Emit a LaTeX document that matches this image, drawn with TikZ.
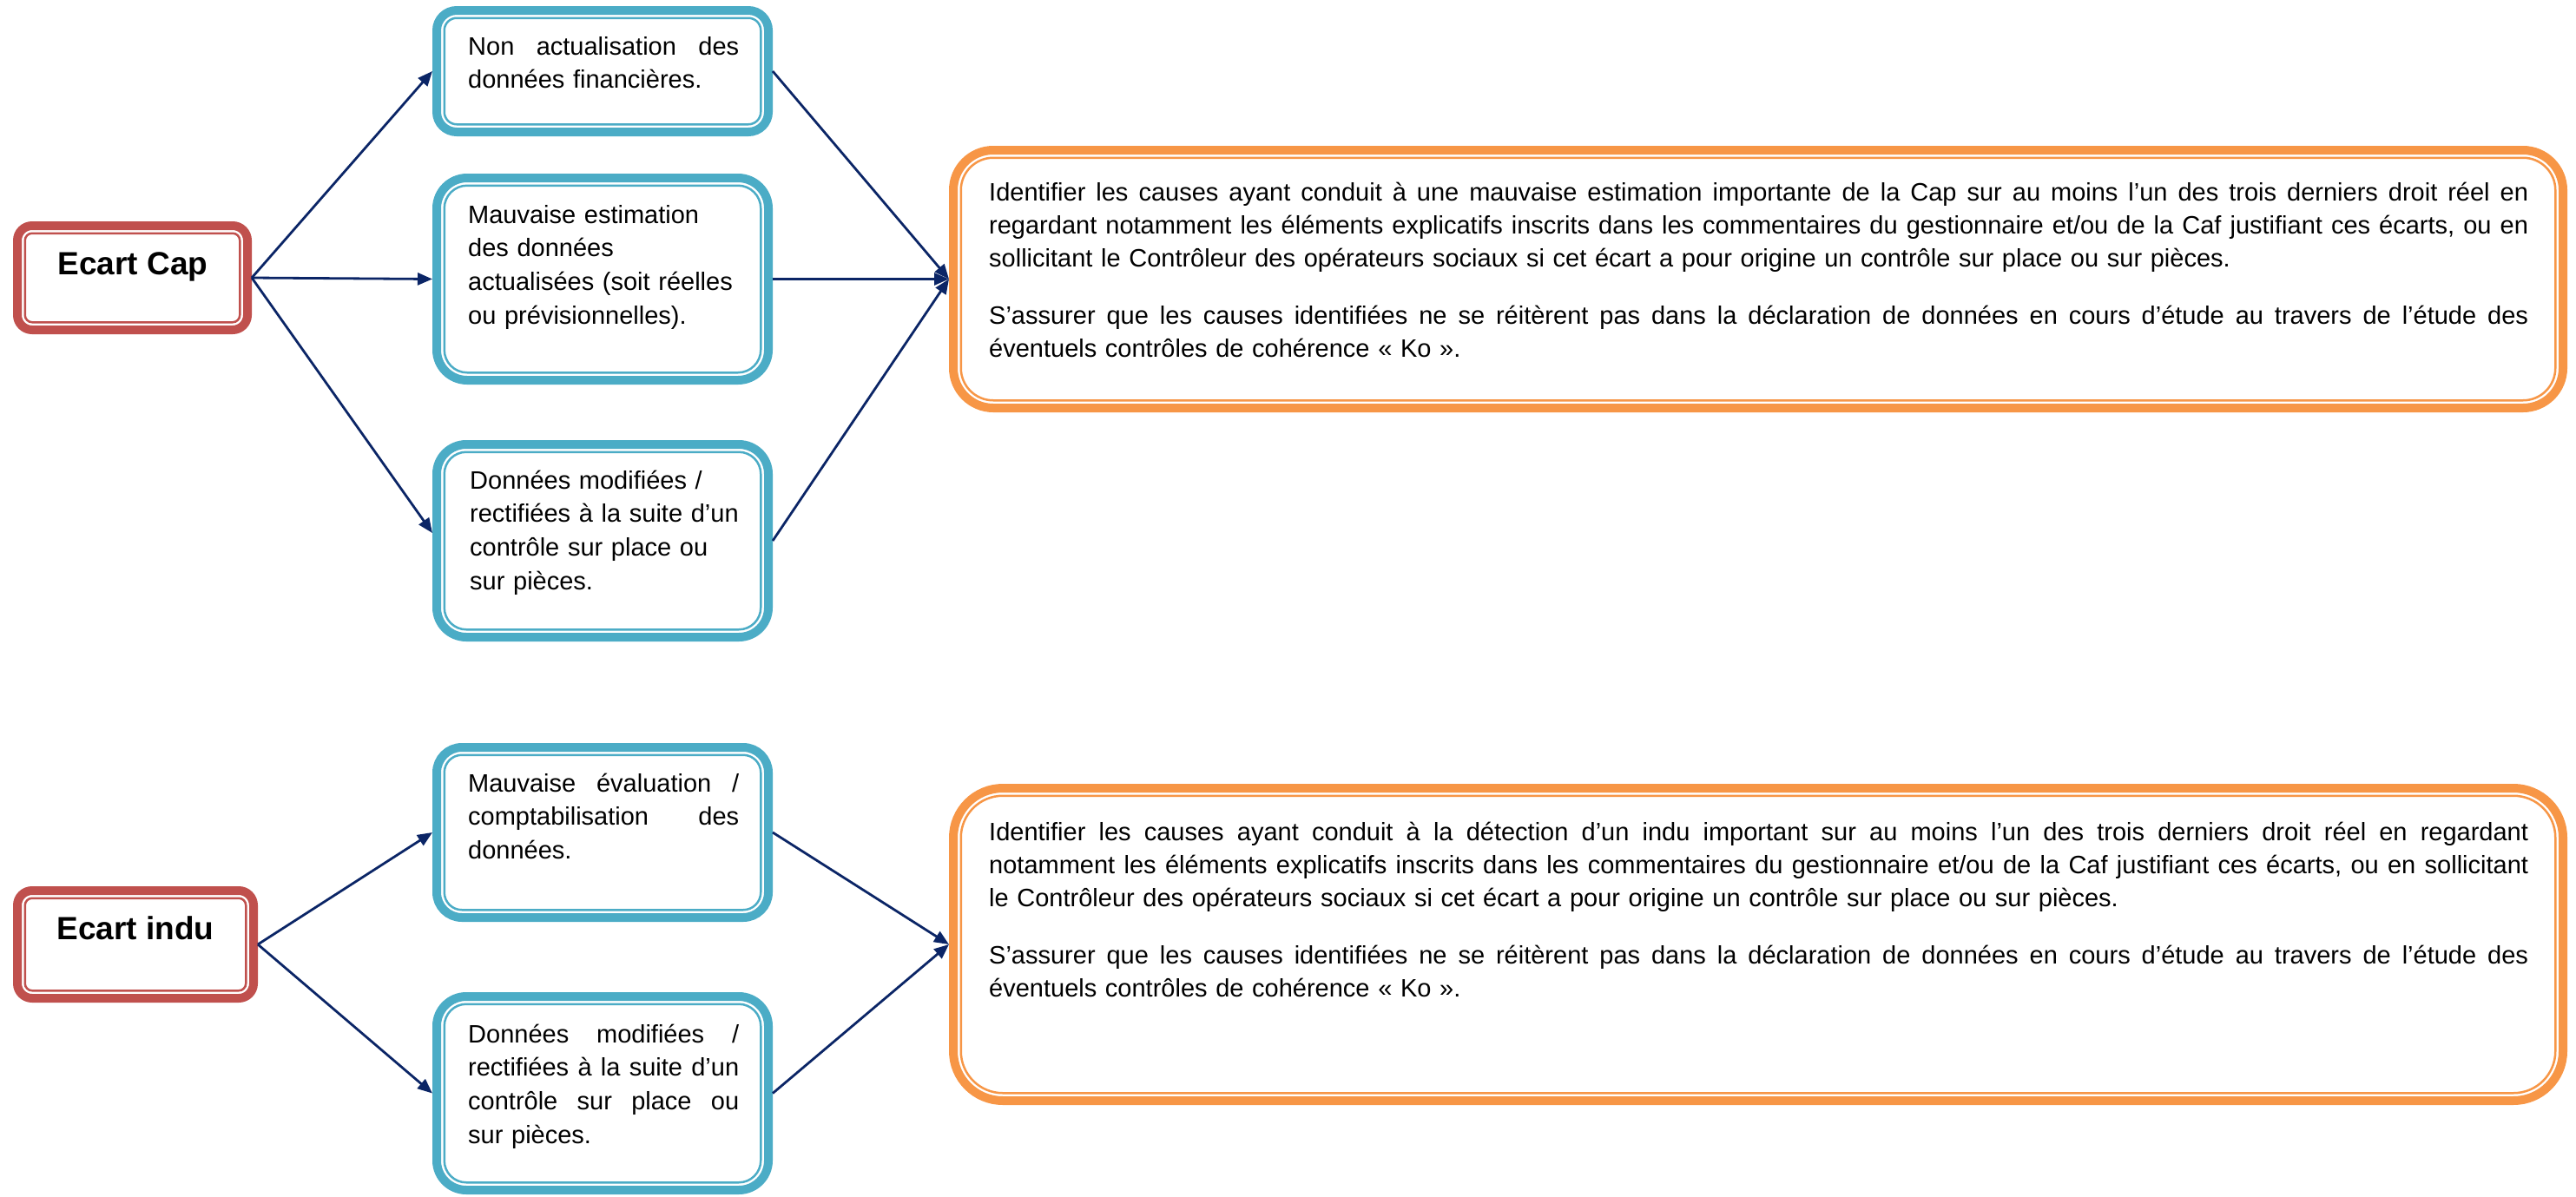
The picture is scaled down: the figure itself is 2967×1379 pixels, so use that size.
\documentclass[tikz,border=0pt]{standalone}
\usepackage{fontspec}
\setmainfont{Liberation Sans}
\usetikzlibrary{arrows.meta}
\definecolor{capred}{HTML}{C0504D}
\definecolor{causeblue}{HTML}{4BACC6}
\definecolor{actorange}{HTML}{F79646}
\definecolor{arrownavy}{HTML}{0B2566}
\newcommand\jline[2]{\leavevmode\hbox to #1{\frenchspacing\spaceskip=\fontdimen2\font plus 1fil\relax #2}}
\newcommand\jc[1]{\jline{312pt}{#1}}
\newcommand\ja[1]{\jline{1773pt}{#1}}
\tikzset{
  boxframe/.style={line width=10pt, outer sep=5pt, inner sep=0pt, fill=white},
  boxinner/.style={line width=2.5pt},
  conn/.style={draw=arrownavy, line width=2.8pt, -{Triangle[length=17pt,width=14pt]}},
  ecarttext/.style={inner sep=0pt, anchor=base, font=\fontsize{37pt}{44pt}\selectfont\bfseries},
  causetext/.style={inner sep=0pt, anchor=base west, text width=312pt, align=left,
    font=\fontsize{29pt}{38.8pt}\selectfont},
  actiontext/.style={inner sep=0pt, anchor=base west, text width=1773pt, align=left,
    font=\fontsize{29pt}{38pt}\selectfont},
}
% name, x1, y1, x2, y2, colour, radius
\newcommand\dbox[7]{%
  \node[boxframe, draw=#6, rounded corners={#7pt-5pt},
        minimum width={#4pt-#2pt-10pt}, minimum height={#5pt-#3pt-10pt}]
        (#1) at ({(#2+#4)/2},{(#3+#5)/2}) {};
  \draw[boxinner, #6, rounded corners={#7pt-13.75pt}]
        ([xshift=13.75pt,yshift=-13.75pt]#1.north west) rectangle
        ([xshift=-13.75pt,yshift=13.75pt]#1.south east);
}
\begin{document}
\begin{tikzpicture}[x=1pt,y=-1pt]
\useasboundingbox (0,0) rectangle (2967,1379);
% ---------- top group ----------
\dbox{cap}{15}{255}{290}{385}{capred}{22}
\dbox{b1}{498}{7}{890}{157}{causeblue}{28}
\dbox{b2}{498}{200}{890}{443}{causeblue}{40}
\dbox{b3}{498}{507}{890}{739}{causeblue}{39}
\dbox{o1}{1093}{168}{2957}{475}{actorange}{51}
% ---------- bottom group ----------
\dbox{indu}{15}{1021}{297}{1155}{capred}{22}
\dbox{b4}{498}{856}{890}{1062}{causeblue}{34}
\dbox{b5}{498}{1143}{890}{1376}{causeblue}{39}
\dbox{o2}{1093}{903}{2957}{1273}{actorange}{62}

% ---------- texts ----------
\node[ecarttext] (capt) at (153,316) {Ecart Cap};
\node[ecarttext] (indut) at (156,1082) {Ecart indu};

\node[causetext] (b1t) at (539,63) {\jc{Non actualisation des}\\données financières.};
\node[causetext] (b2t) at (539,257) {Mauvaise estimation\\des données\\actualisées (soit réelles\\ou prévisionnelles).};
\node[causetext] (b3t) at (541,563) {Données modifiées /\\rectifiées à la suite d’un\\contrôle sur place ou\\sur pièces.};
\node[causetext] (b4t) at (539,912) {\jc{Mauvaise évaluation /}\\\jc{comptabilisation des}\\données.};
\node[causetext] (b5t) at (539,1201) {\jc{Données modifiées /}\\\jc{rectifiées à la suite d’un}\\\jc{contrôle sur place ou}\\sur pièces.};

\node[actiontext] (o1t) at (1139,231) {%
\ja{Identifier les causes ayant conduit à une mauvaise estimation importante de la Cap sur au moins l’un des trois derniers droit réel en}\\
\ja{regardant notamment les éléments explicatifs inscrits dans les commentaires du gestionnaire et/ou de la Caf justifiant ces écarts, ou en}\\
sollicitant le Contrôleur des opérateurs sociaux si cet écart a pour origine un contrôle sur place ou sur pièces.\\[28pt]
\ja{S’assurer que les causes identifiées ne se réitèrent pas dans la déclaration de données en cours d’étude au travers de l’étude des}\\
éventuels contrôles de cohérence « Ko ».};

\node[actiontext] (o2t) at (1139,968) {%
\ja{Identifier les causes ayant conduit à la détection d’un indu important sur au moins l’un des trois derniers droit réel en regardant}\\
\ja{notamment les éléments explicatifs inscrits dans les commentaires du gestionnaire et/ou de la Caf justifiant ces écarts, ou en sollicitant}\\
le Contrôleur des opérateurs sociaux si cet écart a pour origine un contrôle sur place ou sur pièces.\\[28pt]
\ja{S’assurer que les causes identifiées ne se réitèrent pas dans la déclaration de données en cours d’étude au travers de l’étude des}\\
éventuels contrôles de cohérence « Ko ».};

% ---------- connectors ----------
\draw[conn] (cap.east) -- (b1.west);
\draw[conn] (cap.east) -- (b2.west);
\draw[conn] (cap.east) -- ([yshift=9pt]b3.west);
\draw[conn] (b1.east) -- (o1.west);
\draw[conn] (b2.east) -- (o1.west);
\draw[conn] (b3.east) -- (o1.west);

\draw[conn] (indu.east) -- (b4.west);
\draw[conn] (indu.east) -- (b5.west);
\draw[conn] (b4.east) -- (o2.west);
\draw[conn] (b5.east) -- (o2.west);
\end{tikzpicture}
\end{document}
